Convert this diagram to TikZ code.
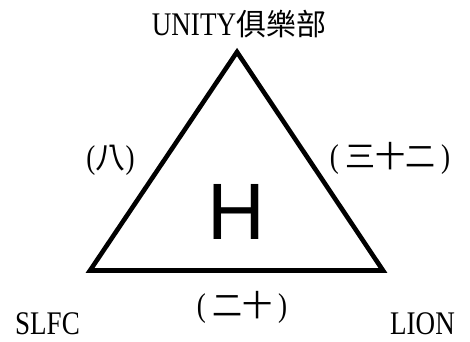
\documentclass[tikz,border=0pt]{standalone}
\usepackage{fontspec}
\setmainfont[FakeStretch=0.82]{Liberation Serif}
\newfontfamily\cjk{Noto Sans CJK TC}
\newfontfamily\hfont{Liberation Sans}
\begin{document}
\begin{tikzpicture}[x=1pt,y=-1pt,
  lbl/.style={inner sep=0pt,anchor=center,font=\fontsize{33}{36}\selectfont},
  cj/.style={},
  edge/.style={line width=4.6pt,line join=miter,draw=black}]
\useasboundingbox (0,0) rectangle (470,341);
\coordinate (A) at (237,52);
\coordinate (B) at (90,270.5);
\coordinate (C) at (383,270.5);
\draw[edge] (A) -- (B) -- (C) -- cycle;
\node[inner sep=0pt,font=\hfont\fontsize{80}{84}\selectfont] (H) at (236.5,211.5) {H};
\node[lbl] (top) at (239,24.5) {UNITY{\cjk\fontsize{30}{33}\selectfont 俱樂部}};
\node[lbl] (l8) at (110.5,160.5) {({\cjk\fontsize{30}{33}\selectfont 八})};
\node[lbl] (l32) at (390,158.5) {(\hspace{6pt}{\cjk\fontsize{30}{33}\selectfont 三十二}\hspace{6pt})};
\node[lbl] (l20) at (242,307) {(\hspace{6pt}{\cjk\fontsize{30}{33}\selectfont 二十}\hspace{6pt})};
\node[lbl] (slfc) at (47.5,324) {SLFC};
\node[lbl] (lion) at (422.5,324) {LION};
\end{tikzpicture}
\end{document}
